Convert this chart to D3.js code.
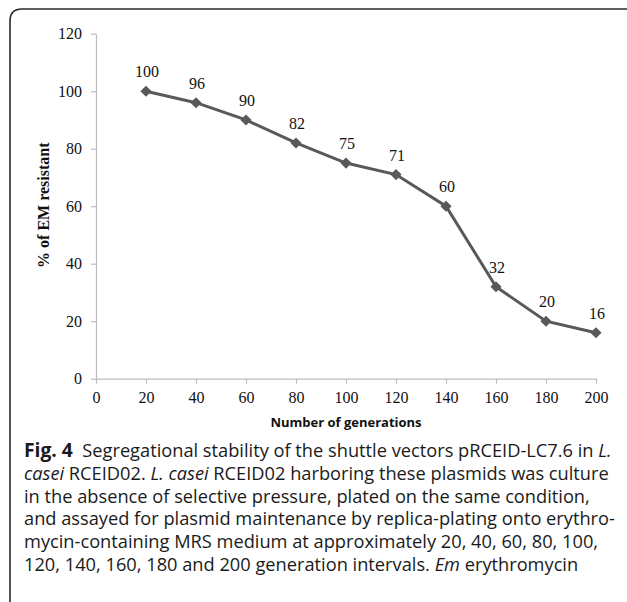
<!DOCTYPE html>
<html>
<head>
<meta charset="utf-8">
<script src="https://cdn.jsdelivr.net/npm/d3@7/dist/d3.min.js"></script>
<style>
  html, body { margin: 0; padding: 0; background: #fff; }
  svg { display: block; }
</style>
</head>
<body>
<svg id="chart" width="627" height="602"></svg>
<script>
// ---- Data ----
const generations = [20, 40, 60, 80, 100, 120, 140, 160, 180, 200];
const resistant = [100, 96, 90, 82, 75, 71, 60, 32, 20, 16];
const yTicks = [0, 20, 40, 60, 80, 100, 120];
const xTicks = [0, 20, 40, 60, 80, 100, 120, 140, 160, 180, 200];
const yTitle = "% of EM resistant";
const xTitle = "Number of generations";
const captionLines = [
  [["Fig. 4", "b"], ["  Segregational stability of the shuttle vectors pRCEID-LC7.6 in ", "n"], ["L.", "i"]],
  [["casei", "i"], [" RCEID02. ", "n"], ["L. casei", "i"], [" RCEID02 harboring these plasmids was culture", "n"]],
  [["in the absence of selective pressure, plated on the same condition,", "n"]],
  [["and assayed for plasmid maintenance by replica-plating onto erythro-", "n"]],
  [["mycin-containing MRS medium at approximately 20, 40, 60, 80, 100,", "n"]],
  [["120, 140, 160, 180 and 200 generation intervals. ", "n"], ["Em", "i"], [" erythromycin", "n"]]
];

const svg = d3.select("#chart");

// frame
const fr = 12;
svg.append("path")
  .attr("d", `M10,610 L10,${9 + fr} Q10,9 ${10 + fr},9 L632,9`)
  .attr("fill", "none")
  .attr("stroke", "#2a2a2a")
  .attr("stroke-width", 1.6);

const x = d3.scaleLinear().domain([0, 200]).range([96, 596]);
const y = d3.scaleLinear().domain([0, 120]).range([378.7, 33.7]);

const serif = "'Liberation Serif', 'Times New Roman', serif";

// y axis
const gy = svg.append("g").attr("transform", `translate(${x(0)},0)`)
  .call(d3.axisLeft(y).tickValues(yTicks).tickSize(5).tickSizeOuter(0).tickPadding(9));
// x axis
const gx = svg.append("g").attr("transform", `translate(0,${y(0)})`)
  .call(d3.axisBottom(x).tickValues(xTicks).tickSize(5).tickSizeOuter(0).tickPadding(8));

[gx, gy].forEach(g => {
  g.select(".domain").attr("stroke", "#bdbdbd").attr("stroke-width", 1.2);
  g.selectAll(".tick line").attr("stroke", "#bdbdbd").attr("stroke-width", 1.2);
  g.selectAll(".tick text").attr("font-family", serif).attr("font-size", 16).attr("fill", "#111");
});

// axis titles
svg.append("text")
  .attr("transform", `translate(49,${(y(0) + y(120)) / 2 - 1}) rotate(-90)`)
  .attr("text-anchor", "middle")
  .attr("font-family", serif)
  .attr("font-weight", "bold")
  .attr("font-size", 16)
  .attr("fill", "#111")
  .text(yTitle);

svg.append("text")
  .attr("x", (x(0) + x(200)) / 2)
  .attr("y", 427)
  .attr("text-anchor", "middle")
  .attr("font-family", "'Open Sans', sans-serif")
  .attr("font-weight", "bold")
  .attr("font-size", 13)
  .attr("fill", "#111")
  .text(xTitle);

// line
const pts = generations.map((g, i) => [g, resistant[i]]);
svg.append("path")
  .datum(pts)
  .attr("d", d3.line().x(d => x(d[0])).y(d => y(d[1])))
  .attr("fill", "none")
  .attr("stroke", "#595959")
  .attr("stroke-width", 3);

// markers
svg.selectAll("path.mk").data(pts).enter().append("path")
  .attr("class", "mk")
  .attr("d", d3.symbol().type(d3.symbolSquare).size(62))
  .attr("transform", d => `translate(${x(d[0])},${y(d[1])}) rotate(45)`)
  .attr("fill", "#595959");

// data labels
svg.selectAll("text.lbl").data(pts).enter().append("text")
  .attr("class", "lbl")
  .attr("x", d => x(d[0]) + 1)
  .attr("y", d => y(d[1]) - 14)
  .attr("text-anchor", "middle")
  .attr("font-family", serif)
  .attr("font-size", 16)
  .attr("fill", "#111")
  .text(d => d[1]);

// caption
const capFont = "'Open Sans', sans-serif";
const cap = svg.append("g");
const lineTexts = captionLines.map((segs, i) => {
  const t = cap.append("text")
    .attr("x", 24)
    .attr("y", 457 + i * 22.8)
    .attr("font-family", capFont)
    .attr("font-size", 18)
    .attr("fill", "#1a1a1a")
    .attr("xml:space", "preserve")
    .style("white-space", "pre");
  segs.forEach(([s, st]) => {
    const ts = t.append("tspan").text(s);
    if (st === "b") ts.attr("font-weight", "bold").attr("font-size", 19);
    if (st === "i") ts.attr("font-style", "italic");
  });
  return t;
});
// fit caption font so that the first line spans its measured width
const w0 = lineTexts[0].node().getComputedTextLength();
const k = 588 / w0;
lineTexts.forEach(t => {
  t.attr("font-size", 18 * k);
  t.selectAll("tspan").filter(function () { return d3.select(this).attr("font-weight") === "bold"; })
    .attr("font-size", 19 * k);
});
</script>
</body>
</html>
